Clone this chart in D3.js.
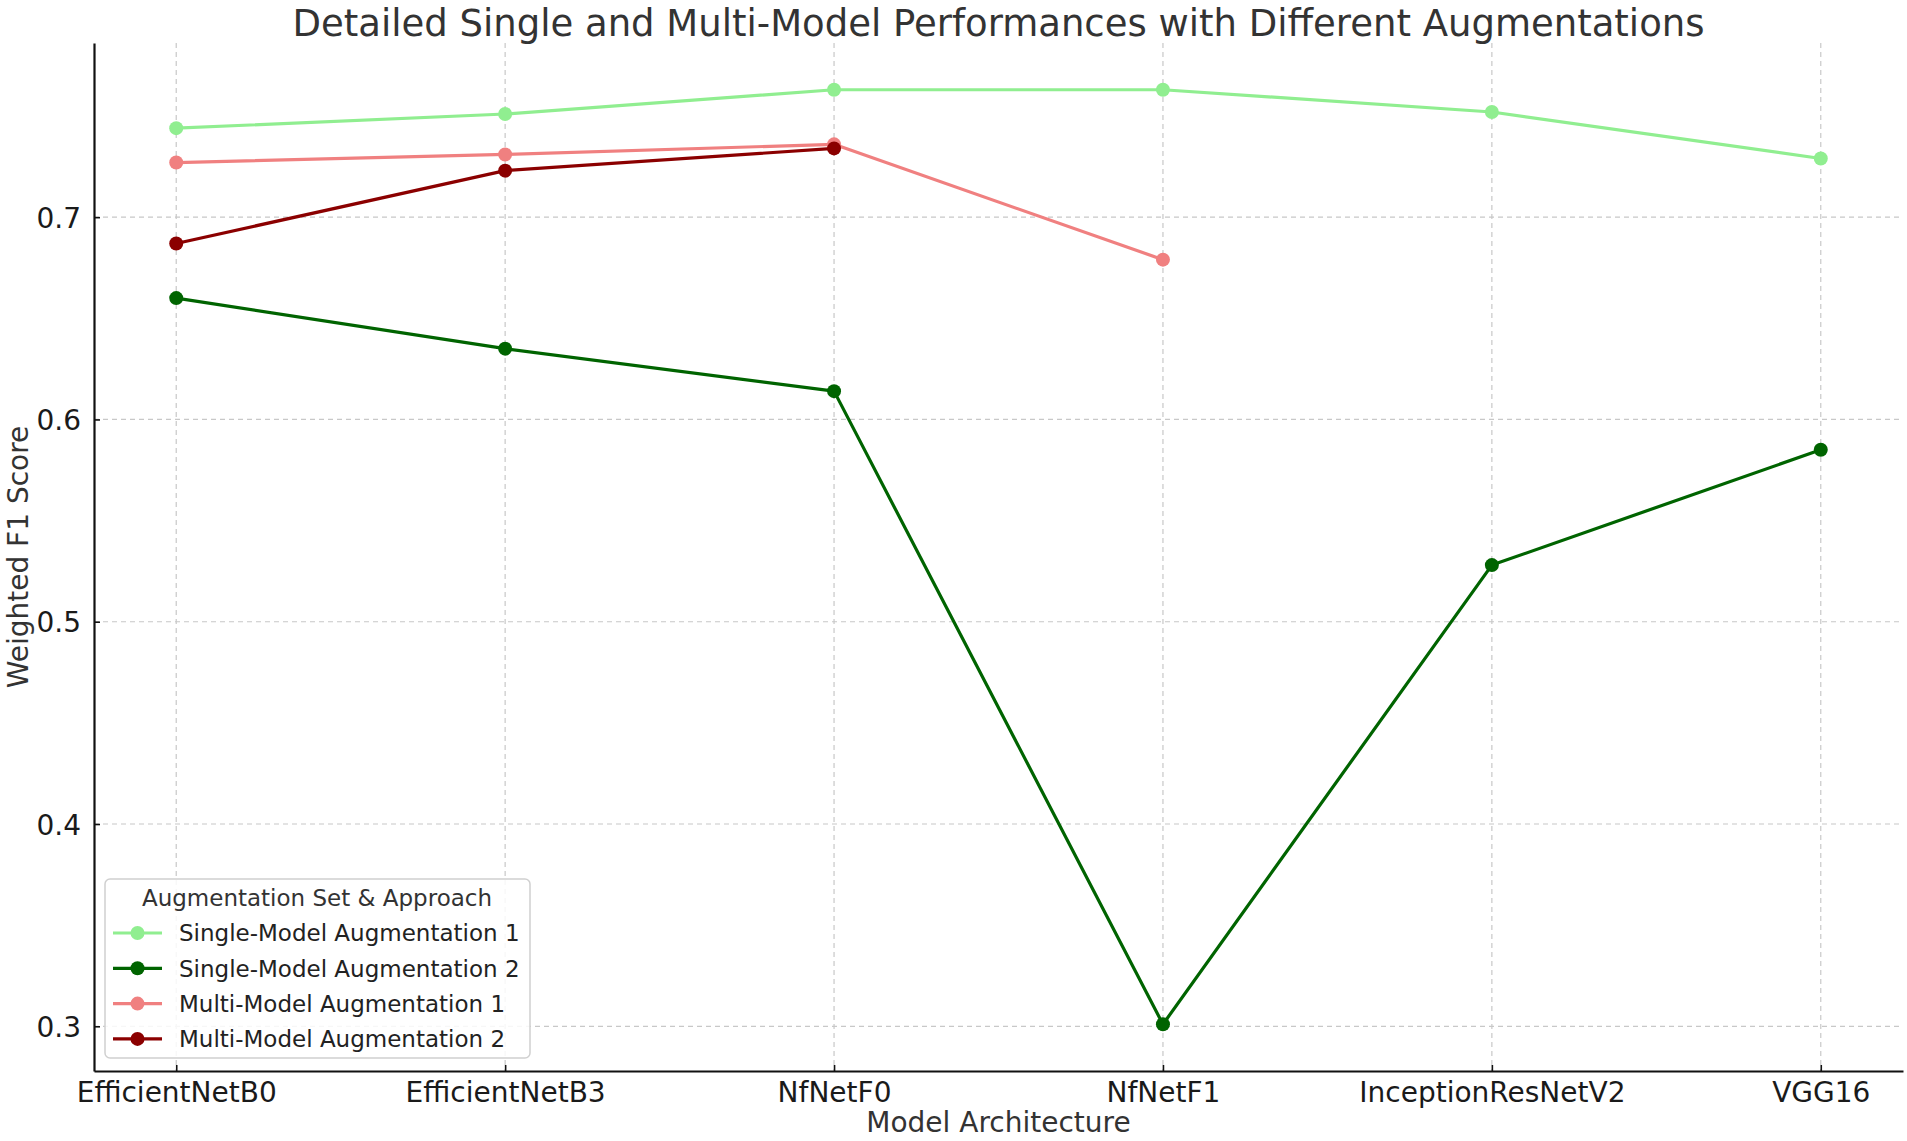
<!DOCTYPE html>
<html>
<head>
<meta charset="utf-8">
<script src="https://cdn.jsdelivr.net/npm/d3@7"></script>
<style>
  html, body { margin: 0; padding: 0; background: #fff; }
  svg { display: block; font-family: "DejaVu Sans", sans-serif; }
</style>
</head>
<body>
<script>
// chart values
const models = ["EfficientNetB0", "EfficientNetB3", "NfNetF0", "NfNetF1", "InceptionResNetV2", "VGG16"];
const singleAug1 = [0.744, 0.751, 0.763, 0.763, 0.752, 0.729];
const singleAug2 = [0.660, 0.635, 0.614, 0.301, 0.528, 0.585];
const multiAug1 = [0.727, 0.731, 0.736, 0.679, null, null];
const multiAug2 = [0.687, 0.723, 0.734, null, null, null];
const yTicks = [0.3, 0.4, 0.5, 0.6, 0.7];

const series = [
  { name: "Single-Model Augmentation 1", color: "#90ee90", values: singleAug1 },
  { name: "Single-Model Augmentation 2", color: "#006400", values: singleAug2 },
  { name: "Multi-Model Augmentation 1", color: "#f08080", values: multiAug1 },
  { name: "Multi-Model Augmentation 2", color: "#8b0000", values: multiAug2 }
];

const width = 1907, height = 1141;
const plot = { left: 94, right: 1903, top: 43, bottom: 1071 };

const svg = d3.select("body").append("svg")
  .attr("width", width)
  .attr("height", height);

// matplotlib style 5% margins
const allVals = series.flatMap(s => s.values).filter(v => v != null);
const yMin = d3.min(allVals), yMax = d3.max(allVals);
const pad = (yMax - yMin) * 0.05;

const x = d3.scaleLinear()
  .domain([-0.25, models.length - 1 + 0.25])
  .range([plot.left, plot.right]);

const y = d3.scaleLinear()
  .domain([yMin - pad, yMax + pad])
  .range([plot.bottom, plot.top]);

// grid
const grid = svg.append("g").attr("class", "grid")
  .attr("stroke", "#c8c8c8")
  .attr("stroke-width", 1.2)
  .attr("stroke-dasharray", "5,4");

grid.selectAll("line.h")
  .data(yTicks)
  .enter().append("line")
  .attr("class", "h")
  .attr("x1", plot.left).attr("x2", plot.right)
  .attr("y1", d => y(d)).attr("y2", d => y(d));

grid.selectAll("line.v")
  .data(models)
  .enter().append("line")
  .attr("class", "v")
  .attr("x1", (d, i) => x(i)).attr("x2", (d, i) => x(i))
  .attr("y1", plot.top).attr("y2", plot.bottom);

// axes
const xAxis = d3.axisBottom(x)
  .tickValues(d3.range(models.length))
  .tickFormat(i => models[i])
  .tickSizeInner(-6).tickSizeOuter(0).tickPadding(11);

const yAxis = d3.axisLeft(y)
  .tickValues(yTicks)
  .tickFormat(d3.format(".1f"))
  .tickSizeInner(-6).tickSizeOuter(0).tickPadding(13);

const gx = svg.append("g")
  .attr("transform", `translate(0,${plot.bottom})`)
  .call(xAxis);

const gy = svg.append("g")
  .attr("transform", `translate(${plot.left},0)`)
  .call(yAxis);

[gx, gy].forEach(g => {
  g.select(".domain").attr("stroke", "#111").attr("stroke-width", 2.2);
  g.selectAll(".tick line").attr("stroke", "#111").attr("stroke-width", 1.6);
  g.selectAll(".tick text")
    .attr("fill", "#1a1a1a")
    .style("font-family", "DejaVu Sans")
    .style("font-size", "28px");
});
gy.selectAll(".tick text").attr("dy", "0.36em");

// lines and markers
const line = d3.line()
  .defined(d => d != null)
  .x((d, i) => x(i))
  .y(d => y(d));

const lines = svg.append("g").attr("class", "series");

series.forEach(s => {
  const g = lines.append("g");
  g.append("path")
    .datum(s.values)
    .attr("fill", "none")
    .attr("stroke", s.color)
    .attr("stroke-width", 3.2)
    .attr("stroke-linejoin", "round")
    .attr("d", line);

  g.selectAll("circle")
    .data(s.values.map((v, i) => ({ v, i })).filter(d => d.v != null))
    .enter().append("circle")
    .attr("cx", d => x(d.i))
    .attr("cy", d => y(d.v))
    .attr("r", 7)
    .attr("fill", s.color);
});

// title and labels
svg.append("text")
  .attr("x", (plot.left + plot.right) / 2)
  .attr("y", 36)
  .attr("text-anchor", "middle")
  .attr("fill", "#333")
  .style("font-size", "37px")
  .text("Detailed Single and Multi-Model Performances with Different Augmentations");

svg.append("text")
  .attr("x", (plot.left + plot.right) / 2)
  .attr("y", 1132)
  .attr("text-anchor", "middle")
  .attr("fill", "#333")
  .style("font-size", "28px")
  .text("Model Architecture");

svg.append("text")
  .attr("transform", `translate(28,${(plot.top + plot.bottom) / 2}) rotate(-90)`)
  .attr("text-anchor", "middle")
  .attr("fill", "#333")
  .style("font-size", "28px")
  .text("Weighted F1 Score");

// legend
const legend = svg.append("g").attr("transform", "translate(105,879)");

legend.append("rect")
  .attr("width", 425).attr("height", 179)
  .attr("rx", 5).attr("ry", 5)
  .attr("fill", "#fff").attr("fill-opacity", 0.85)
  .attr("stroke", "#d0d0d0").attr("stroke-width", 1.5);

legend.append("text")
  .attr("x", 212).attr("y", 27)
  .attr("text-anchor", "middle")
  .attr("fill", "#333")
  .style("font-size", "23px")
  .text("Augmentation Set & Approach");

const item = legend.selectAll("g.item")
  .data(series)
  .enter().append("g")
  .attr("class", "item")
  .attr("transform", (d, i) => `translate(0,${54 + i * 35.3})`);

item.append("line")
  .attr("x1", 8).attr("x2", 57)
  .attr("stroke", d => d.color)
  .attr("stroke-width", 3.2);

item.append("circle")
  .attr("cx", 32.5).attr("r", 7)
  .attr("fill", d => d.color);

item.append("text")
  .attr("x", 74).attr("dy", "0.36em")
  .attr("fill", "#222")
  .style("font-size", "23px")
  .text(d => d.name);
</script>
</body>
</html>
